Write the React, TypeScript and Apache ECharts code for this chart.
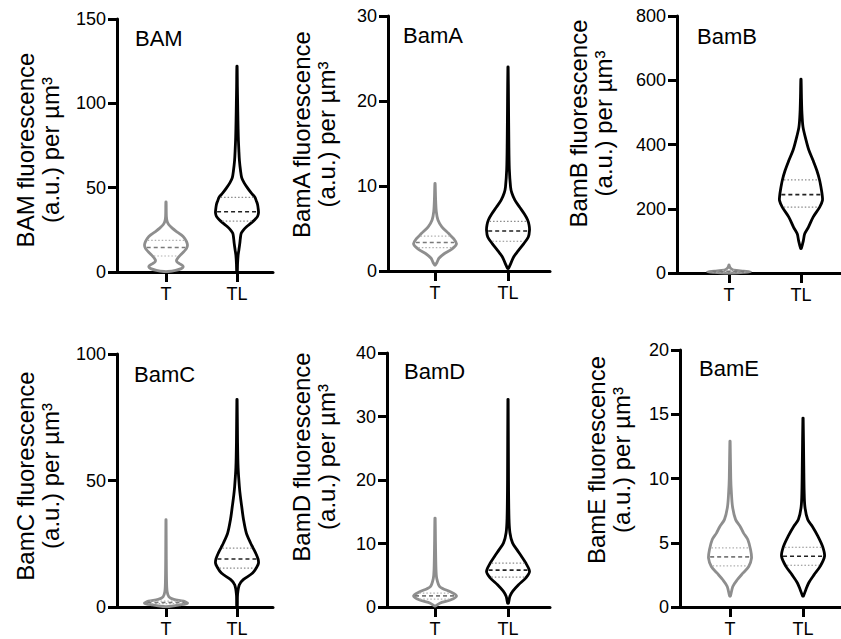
import React, { useEffect, useRef } from 'react';
import * as echarts from 'echarts';

const FONT = '"Liberation Sans", Arial, Helvetica, sans-serif';

const GROUPS = ['T', 'TL'];
const PANEL_NAMES = ['BAM', 'BamA', 'BamB', 'BamC', 'BamD', 'BamE'];
const Y_MAX = [150, 30, 800, 100, 40, 20];
const Y_INTERVAL = [50, 10, 200, 50, 10, 5];

// Violin outlines: [value, relative density]
const BAM_T = [[0.3, 2], [1, 10], [2, 16], [3, 18], [4, 17], [5, 14], [6, 11.5], [7, 11], [8, 12], [10, 15], [12, 18.5], [14, 21.5], [16, 22.5], [18, 21.5], [20, 19.5], [22, 16], [24, 11], [26, 6.5], [28, 3], [30, 1.2], [33, 0.4], [41.5, 0.15]];
const BAM_TL = [[0, 0.3], [5, 0.6], [10, 1.2], [13, 2], [17, 3], [20, 3.6], [23, 4.5], [25, 7], [27, 10.5], [29, 15], [31, 19], [33, 22], [35, 23], [37, 22.8], [40, 22], [42, 20.8], [44.5, 19], [47, 15], [50, 11], [53, 7.5], [56, 5], [60, 3.8], [66, 2.6], [72, 2], [80, 1.4], [90, 1], [100, 0.7], [110, 0.4], [122, 0.15]];

const BAMA_T = [[0.7, 0.3], [1.0, 2], [1.5, 4], [2.0, 9], [2.6, 17.5], [3.2, 22], [3.8, 19], [4.4, 14], [5.2, 7], [6.0, 3], [7, 1.3], [8.5, 0.6], [10.3, 0.15]];
const BAMA_TL = [[0.3, 0.4], [0.9, 3], [1.65, 6], [2.4, 11], [3.2, 16.7], [4.0, 21.7], [4.8, 23], [5.4, 22.5], [6.0, 21], [6.7, 17.5], [7.5, 12.5], [8.3, 7.5], [9.2, 4], [9.9, 2.7], [12, 1.4], [15, 0.9], [20, 0.5], [24, 0.15]];

const BAMB_T = [[0, 4], [2, 15], [4, 22], [6, 15], [9, 5], [14, 2], [20, 0.6], [25, 0.15]];
const BAMB_TL = [[76, 0.3], [100, 2.5], [122, 4], [143, 8], [174, 13], [205, 20], [226, 23], [240, 22.8], [257, 22], [288, 20], [319, 17], [350, 13], [382, 8.5], [413, 5.5], [454, 2.2], [500, 1], [550, 0.5], [603, 0.15]];

const BAMC_T = [[0.2, 3], [0.8, 14], [1.5, 22], [2.3, 18], [3, 8], [4, 3], [6, 1.2], [10, 0.6], [20, 0.3], [34.5, 0.1]];
const BAMC_TL = [[0, 0.3], [5, 0.6], [8.8, 2.5], [10.8, 6.7], [13.4, 16.7], [16, 21.5], [17.4, 23], [19, 22.5], [21.3, 20], [23.5, 17], [25.3, 14.5], [29.2, 10], [34.5, 7], [39.8, 5], [44, 3.5], [47.7, 2.5], [55, 1.2], [65, 0.6], [82, 0.15]];

const BAMD_T = [[0.15, 0.4], [0.6, 5], [1.1, 16], [1.75, 22.5], [2.4, 16], [3.2, 5], [4.5, 1.8], [6, 1], [10, 0.5], [14, 0.15]];
const BAMD_TL = [[0.6, 0.4], [1.7, 2], [2.5, 5], [3.5, 11], [4.6, 18.7], [5.6, 22.5], [6.9, 18.7], [8, 14], [9, 9.5], [10.1, 4.7], [11.7, 2], [14, 1], [20, 0.5], [32.7, 0.15]];

const BAME_T = [[0.85, 0.4], [1.6, 3], [2.1, 7.5], [2.65, 14], [3.15, 20], [3.8, 23], [4.45, 22], [5.25, 19], [5.75, 14.5], [6.25, 11], [6.8, 6], [7.8, 2.7], [9, 1.4], [10, 0.8], [12.9, 0.15]];
const BAME_TL = [[0.85, 0.4], [1.35, 3], [1.87, 6], [2.5, 11.7], [3.16, 18.3], [3.95, 23], [4.7, 21], [5.5, 16], [6.27, 10], [6.8, 5], [7.8, 2], [9, 1.2], [11, 0.8], [14.7, 0.15]];

// Quartiles [Q1, median, Q3]
const BAM_Q = [[9.5, 14.5, 18.8], [30.2, 35.7, 44.3]];
const BAMA_Q = [[2.75, 3.35, 4.1], [3.5, 4.7, 5.85]];
const BAMB_Q = [[3, 5, 8], [205, 244, 290]];
const BAMC_Q = [[1.3, 1.8, 2.3], [15.4, 19, 23.3]];
const BAMD_Q = [[1.25, 1.75, 2.2], [4.7, 5.8, 6.9]];
const BAME_Q = [[3.2, 3.9, 4.6], [3.25, 3.95, 4.65]];

const PROFILES = [
  [BAM_T, BAM_TL],
  [BAMA_T, BAMA_TL],
  [BAMB_T, BAMB_TL],
  [BAMC_T, BAMC_TL],
  [BAMD_T, BAMD_TL],
  [BAME_T, BAME_TL],
];
const QUARTILES = [BAM_Q, BAMA_Q, BAMB_Q, BAMC_Q, BAMD_Q, BAME_Q];

// Layout (pixels)
const GRIDS = [
  { left: 117, top: 19, width: 156, height: 253, xMin: 0.31, xMax: 2.507, yTitle: [38, 150], title: [135, 38] },
  { left: 388, top: 16, width: 162, height: 255, xMin: 0.356, xMax: 2.575, yTitle: [314, 134.5], title: [403, 35] },
  { left: 677, top: 16, width: 164, height: 257, xMin: 0.278, xMax: 2.556, yTitle: [591, 123.5], title: [697, 36] },
  { left: 117, top: 354, width: 156, height: 253, xMin: 0.31, xMax: 2.507, yTitle: [38, 476], title: [134, 374] },
  { left: 387, top: 353, width: 163, height: 254, xMin: 0.342, xMax: 2.575, yTitle: [314, 457], title: [404, 371] },
  { left: 680, top: 350, width: 161, height: 257, xMin: 0.315, xMax: 2.52, yTitle: [609, 460], title: [699, 368] },
];

const HALF = 21.5;
const AXIS_W = 3;
const COLORS = [
  { line: '#8e8e8e', med: '#7a7a7a', q: '#b0b0b0' },
  { line: '#000000', med: '#222222', q: '#8a8a8a' },
];

function interp(profile: number[][], v: number) {
  if (v <= profile[0][0]) return profile[0][1];
  for (let i = 1; i < profile.length; i++) {
    if (v <= profile[i][0]) {
      const [v0, d0] = profile[i - 1];
      const [v1, d1] = profile[i];
      return d0 + ((d1 - d0) * (v - v0)) / (v1 - v0);
    }
  }
  return profile[profile.length - 1][1];
}

function makeRender(profile: number[][], quart: number[], col: { line: string; med: string; q: string }) {
  const dmax = Math.max(...profile.map((p) => p[1]));
  return (params: any, api: any) => {
    const xv = api.value(0);
    const right: number[][] = [];
    const left: number[][] = [];
    for (const [v, d] of profile) {
      const pt = api.coord([xv, v]);
      const w = (HALF * d) / dmax;
      right.push([pt[0] + w, pt[1]]);
      left.push([pt[0] - w, pt[1]]);
    }
    const pts = right.concat(left.reverse());
    const children: any[] = [
      {
        type: 'polygon',
        shape: { points: pts, smooth: 0.3 },
        style: { fill: 'none', stroke: col.line, lineWidth: 2.8, lineJoin: 'round' },
      },
    ];
    quart.forEach((q, i) => {
      const w = Math.max(0, (HALF * interp(profile, q)) / dmax - 1.5);
      const c = api.coord([xv, q]);
      children.push({
        type: 'line',
        shape: { x1: c[0] - w, y1: c[1], x2: c[0] + w, y2: c[1] },
        style: {
          stroke: i === 1 ? col.med : col.q,
          lineWidth: i === 1 ? 1.6 : 1.2,
          lineDash: i === 1 ? [4, 3] : [1.5, 2],
        },
      });
    });
    return { type: 'group', children };
  };
}

export default function App() {
  const ref = useRef<HTMLDivElement>(null);
  useEffect(() => {
    if (!ref.current) return;
    const chart = echarts.init(ref.current, undefined, { renderer: 'svg' });
    const grid = GRIDS.map((g) => ({ left: g.left, top: g.top, width: g.width, height: g.height }));
    const xAxis = GRIDS.map((g, i) => ({
      gridIndex: i,
      type: 'value',
      min: g.xMin,
      max: g.xMax,
      axisLine: { show: true, onZero: false, lineStyle: { color: '#000', width: AXIS_W } },
      axisTick: { show: true, customValues: [1, 2], length: 10, lineStyle: { color: '#000', width: AXIS_W } },
      axisLabel: {
        customValues: [1, 2],
        formatter: (v: number) => GROUPS[Math.round(v) - 1] ?? '',
        fontSize: 18,
        color: '#000',
        margin: 13,
        fontFamily: FONT,
      },
      splitLine: { show: false },
    }));
    const yAxis = GRIDS.map((g, i) => ({
      gridIndex: i,
      type: 'value',
      min: 0,
      max: Y_MAX[i],
      interval: Y_INTERVAL[i],
      axisLine: { show: true, onZero: false, lineStyle: { color: '#000', width: AXIS_W } },
      axisTick: { show: true, length: 9, lineStyle: { color: '#000', width: AXIS_W } },
      axisLabel: { fontSize: 18, color: '#000', margin: 11, fontFamily: FONT },
      splitLine: { show: false },
    }));
    const series: any[] = [];
    PROFILES.forEach((pair, i) => {
      pair.forEach((profile, j) => {
        series.push({
          type: 'custom',
          name: `${PANEL_NAMES[i]} ${GROUPS[j]}`,
          xAxisIndex: i,
          yAxisIndex: i,
          z: 3,
          data: [[j + 1, QUARTILES[i][j][1]]],
          renderItem: makeRender(profile, QUARTILES[i][j], COLORS[j]),
          silent: true,
        });
      });
    });
    const graphic: any[] = [];
    GRIDS.forEach((g, i) => {
      graphic.push({
        type: 'text',
        x: g.title[0],
        y: g.title[1],
        style: {
          text: PANEL_NAMES[i],
          fontSize: 22,
          fontFamily: FONT,
          fill: '#000',
          textAlign: 'left',
          textVerticalAlign: 'middle',
        },
      });
      graphic.push({
        type: 'text',
        x: g.yTitle[0],
        y: g.yTitle[1],
        rotation: Math.PI / 2,
        style: {
          text: `${PANEL_NAMES[i]} fluorescence\n(a.u.) per µm³`,
          fontSize: 24,
          lineHeight: 25,
          fontFamily: FONT,
          fill: '#000',
          textAlign: 'center',
          textVerticalAlign: 'middle',
        },
      });
    });
    chart.setOption({
      animation: false,
      backgroundColor: '#fff',
      grid,
      xAxis,
      yAxis,
      series,
      graphic,
    });
    return () => chart.dispose();
  }, []);
  return <div ref={ref} style={{ position: 'fixed', left: 0, top: 0, width: 841, height: 639 }} />;
}
